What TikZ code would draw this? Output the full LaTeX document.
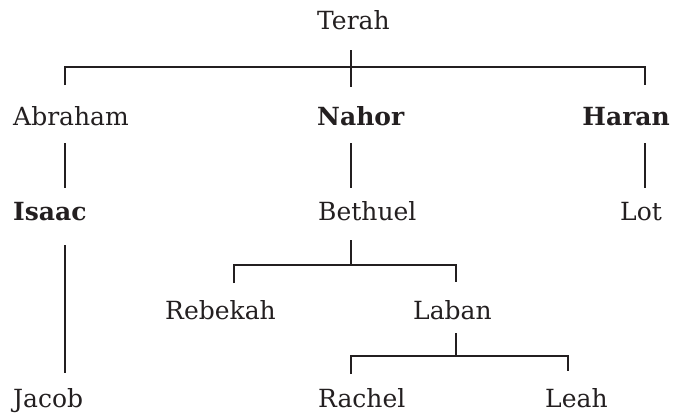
\documentclass[tikz,border=0pt]{standalone}
\usepackage{fontspec}
\setmainfont{DejaVu Serif}
\definecolor{ink}{HTML}{231F20}
\begin{document}
\begin{tikzpicture}[x=1pt,y=-1pt,
  person/.style={anchor=base west,inner sep=0pt,text=ink,font=\fontsize{25}{29}\selectfont},
  bperson/.style={person,font=\fontsize{25}{29}\selectfont\bfseries},
  link/.style={line width=2.6pt,draw=ink,line join=miter}]
\useasboundingbox (0,0) rectangle (673,415);
% names
\node[person] (terah) at (317,30) {Terah};
\node[person] (abraham) at (13,125) {Abraham};
\node[bperson] (nahor) at (317,125) {Nahor};
\node[bperson,anchor=base east] (haran) at (670,125) {Haran};
\node[bperson] (isaac) at (13,220) {Isaac};
\node[person] (bethuel) at (318,220) {Bethuel};
\node[person] (lot) at (620,220) {Lot};
\node[person] (rebekah) at (165,319) {Rebekah};
\node[person] (laban) at (413,319) {Laban};
\node[person] (jacob) at (13,407) {Jacob};
\node[person] (rachel) at (318,407) {Rachel};
\node[person] (leah) at (545,407) {Leah};
% junction coordinates
\coordinate (t1) at (351,50);
\coordinate (t2) at (351,87);
\coordinate (tl) at (65,67);
\coordinate (tr) at (645,67);
\coordinate (tlb) at (65,85);
\coordinate (trb) at (645,85);
\coordinate (a1) at (65,143);
\coordinate (a2) at (65,188);
\coordinate (n1) at (351,143);
\coordinate (n2) at (351,188);
\coordinate (h1) at (645,143);
\coordinate (h2) at (645,188);
\coordinate (i1) at (65,245);
\coordinate (i2) at (65,373);
\coordinate (b1) at (351,240);
\coordinate (b2) at (351,265);
\coordinate (bl) at (234,265);
\coordinate (br) at (456,265);
\coordinate (blb) at (234,283);
\coordinate (brb) at (456,282);
\coordinate (l1) at (456,333);
\coordinate (l2) at (456,356);
\coordinate (ll) at (351,356);
\coordinate (lr) at (568,356);
\coordinate (llb) at (351,374);
\coordinate (lrb) at (568,371);
% connectors
\draw[link] (t1) -- (t2);
\draw[link] (tlb) -- (tl) -- (tr) -- (trb);
\draw[link] (a1) -- (a2);
\draw[link] (n1) -- (n2);
\draw[link] (h1) -- (h2);
\draw[link] (i1) -- (i2);
\draw[link] (b1) -- (b2);
\draw[link] (blb) -- (bl) -- (br) -- (brb);
\draw[link] (l1) -- (l2);
\draw[link] (llb) -- (ll) -- (lr) -- (lrb);
\end{tikzpicture}
\end{document}
